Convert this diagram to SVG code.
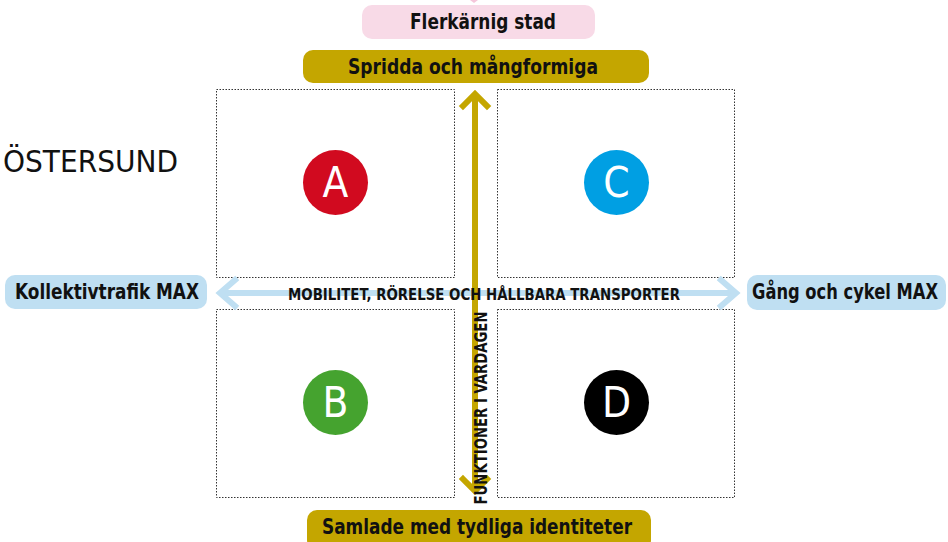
<svg xmlns="http://www.w3.org/2000/svg" width="948" height="542" viewBox="0 0 948 542">
<style>
text{font-family:"DejaVu Sans Condensed","DejaVu Sans","Liberation Sans",sans-serif;font-weight:bold;fill:#111}
.box{fill:none;stroke:#333;stroke-width:1;stroke-dasharray:1.5 1.5}
.lbl{font-size:22px;text-anchor:middle}
.letter{font-size:42px;text-anchor:middle;fill:#fff;font-weight:normal}
.gold{fill:#c4a600}
.blue{fill:#bfdff2}
</style>
<rect width="948" height="542" fill="#fff"/>
<g id="quadrants">
<rect class="box" x="216.5" y="89.5" width="238" height="188"/>
<rect class="box" x="497.5" y="89.5" width="237" height="188"/>
<rect class="box" x="216.5" y="309.5" width="238" height="188"/>
<rect class="box" x="497.5" y="309.5" width="237" height="188"/>
</g>
<g id="connectors">
<polygon points="470,0 474,3 478,0" fill="#f5c6da"/>
<g id="horizontal-axis" stroke="#bfdff2" stroke-width="6" fill="none">
<line x1="220" y1="293" x2="735" y2="293"/>
<polyline points="235,280 220,293 235,306" stroke-linecap="square"/>
<polyline points="721,280 736,293 721,306" stroke-linecap="square"/>
</g>
<g id="vertical-axis" stroke="#c4a600" stroke-width="6" fill="none">
<line x1="475" y1="94" x2="475" y2="492"/>
<polyline points="463,106 475,94 487,106" stroke-linecap="square"/>
<polyline points="463,479 475,491 487,479" stroke-linecap="square"/>
</g>
<text x="484" y="300" font-size="16.5" text-anchor="middle" textLength="392" lengthAdjust="spacingAndGlyphs">MOBILITET, RÖRELSE OCH HÅLLBARA TRANSPORTER</text>
<text transform="translate(487,408) rotate(-90)" font-size="18" text-anchor="middle" textLength="193" lengthAdjust="spacingAndGlyphs">FUNKTIONER I VARDAGEN</text>
</g>
<g id="flerkarnig">
<rect x="362" y="5" width="233" height="34" rx="10" fill="#f8dae7"/>
<text class="lbl" x="483" y="29" textLength="146" lengthAdjust="spacingAndGlyphs">Flerkärnig stad</text>
</g>
<g id="spridda">
<rect x="303" y="50" width="346" height="33" rx="10" class="gold"/>
<text class="lbl" x="473" y="74" textLength="250" lengthAdjust="spacingAndGlyphs">Spridda och mångformiga</text>
</g>
<g id="samlade">
<rect x="307" y="510" width="344" height="40" rx="10" class="gold"/>
<text class="lbl" x="477" y="534" textLength="310" lengthAdjust="spacingAndGlyphs">Samlade med tydliga identiteter</text>
</g>
<g id="kollektivtrafik">
<rect x="5" y="275" width="202" height="34" rx="10" class="blue"/>
<text class="lbl" x="107" y="299" textLength="184" lengthAdjust="spacingAndGlyphs">Kollektivtrafik MAX</text>
</g>
<g id="gang">
<rect x="747" y="275" width="199" height="35" rx="10" class="blue"/>
<text class="lbl" x="845" y="299" font-size="21" textLength="186" lengthAdjust="spacingAndGlyphs">Gång och cykel MAX</text>
</g>
<g id="ostersund">
<text x="3" y="172" font-size="31" textLength="175" lengthAdjust="spacingAndGlyphs" style="font-weight:500">ÖSTERSUND</text>
</g>
<g id="A">
<circle cx="335.5" cy="182.5" r="32.5" fill="#d10a1f"/>
<text class="letter" x="335.5" y="197">A</text>
</g>
<g id="C">
<circle cx="616.5" cy="182.5" r="32.5" fill="#009fe3"/>
<text class="letter" x="616.5" y="197">C</text>
</g>
<g id="B">
<circle cx="335.5" cy="402.5" r="32.5" fill="#45a32f"/>
<text class="letter" x="335.5" y="417">B</text>
</g>
<g id="D">
<circle cx="616.5" cy="402.5" r="32.5" fill="#000"/>
<text class="letter" x="616.5" y="417">D</text>
</g>
</svg>
